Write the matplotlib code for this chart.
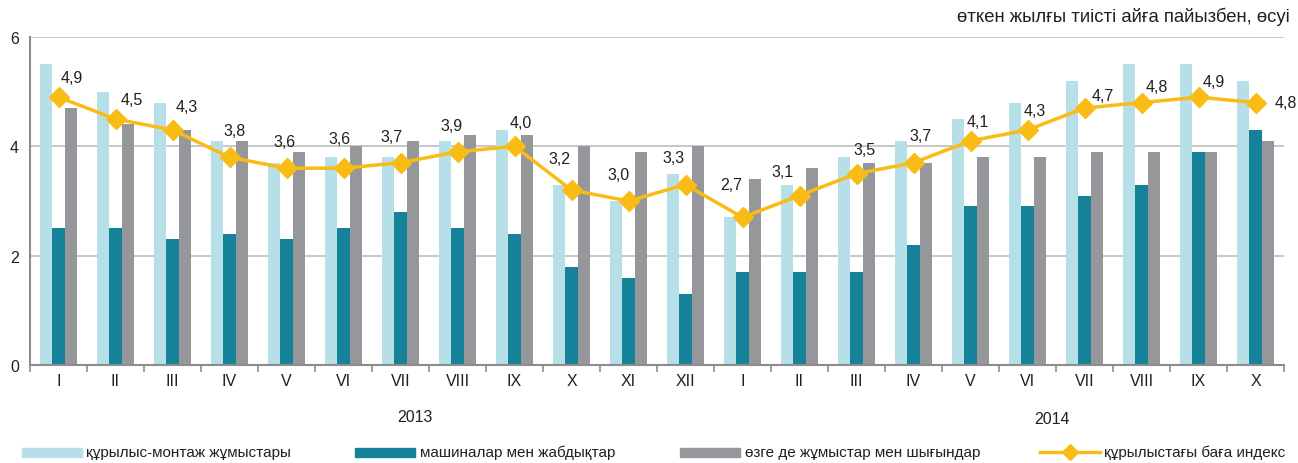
import matplotlib
matplotlib.use('Agg')
import matplotlib.pyplot as plt
import numpy as np
from matplotlib.patches import Rectangle
from matplotlib.lines import Line2D

plt.rcParams['font.family'] = ['Liberation Sans', 'DejaVu Sans']

# Data
months = ['I', 'II', 'III', 'IV', 'V', 'VI', 'VII', 'VIII', 'IX', 'X', 'XI', 'XII',
          'I', 'II', 'III', 'IV', 'V', 'VI', 'VII', 'VIII', 'IX', 'X']
construction = [5.5, 5.0, 4.8, 4.1, 3.7, 3.8, 3.8, 4.1, 4.3, 3.3, 3.0, 3.5,
                2.7, 3.3, 3.8, 4.1, 4.5, 4.8, 5.2, 5.5, 5.5, 5.2]
machinery = [2.5, 2.5, 2.3, 2.4, 2.3, 2.5, 2.8, 2.5, 2.4, 1.8, 1.6, 1.3,
             1.7, 1.7, 1.7, 2.2, 2.9, 2.9, 3.1, 3.3, 3.9, 4.3]
other = [4.7, 4.4, 4.3, 4.1, 3.9, 4.0, 4.1, 4.2, 4.2, 4.0, 3.9, 4.0,
         3.4, 3.6, 3.7, 3.7, 3.8, 3.8, 3.9, 3.9, 3.9, 4.1]
price_index = [4.9, 4.5, 4.3, 3.8, 3.6, 3.6, 3.7, 3.9, 4.0, 3.2, 3.0, 3.3,
               2.7, 3.1, 3.5, 3.7, 4.1, 4.3, 4.7, 4.8, 4.9, 4.8]
years = ['2013', '2014']
series_names = ['құрылыс-монтаж жұмыстары', 'машиналар мен жабдықтар',
                'өзге де жұмыстар мен шығындар', 'құрылыстағы баға индекс']

# label offsets (pixels) relative to the marker
label_dx = [13, 16, 14, 5, -2, -4, -9, -6, 6, -12, -10, -12,
            -11, -17, 8, 7, 7, 7, 18, 15, 15, 30]
label_dy = [20, 20, 23, 27, 27, 30, 26, 26, 24, 32, 27, 27,
            33, 24, 24, 27, 19, 19, 13, 16, 16, 0]

c_light = '#b7dfe8'
c_dark = '#168299'
c_gray = '#96979b'
c_line = '#f9bc15'
c_grid = '#bdbdbd'

fig = plt.figure(figsize=(12.98, 4.64), dpi=100)
ax = fig.add_axes([30 / 1298, 1 - 366 / 464, 1254 / 1298, 328 / 464])

x = np.arange(len(months))
w = 0.222
ax.bar(x - w, construction, w, color=c_light, zorder=2)
ax.bar(x, machinery, w, color=c_dark, zorder=2)
ax.bar(x + w, other, w, color=c_gray, zorder=2)
ax.plot(x, price_index, color=c_line, lw=2.5, marker='D', ms=10,
        markeredgecolor=c_line, zorder=3)

for i, v in enumerate(price_index):
    ax.annotate(f'{v:.1f}'.replace('.', ','), (x[i], v),
                xytext=(label_dx[i] * 0.72, label_dy[i] * 0.72),
                textcoords='offset points', ha='center', va='center',
                fontsize=11.5, color='#231f20', zorder=4)

ax.set_xlim(-0.5, len(months) - 0.5)
ax.set_ylim(0, 6)
ax.set_yticks([0, 2, 4, 6])
ax.yaxis.grid(True, color=c_grid, lw=1.2, zorder=0)
ax.set_axisbelow(True)
ax.set_xticks(x)
ax.set_xticklabels(months)
ax.set_xticks(np.arange(-0.5, len(months)), minor=True)
ax.tick_params(axis='x', which='major', length=0, pad=6, labelsize=11.5, colors='#231f20')
ax.tick_params(axis='x', which='minor', length=5, width=1.2, color='#8c8c8c')
ax.tick_params(axis='y', length=0, pad=8, labelsize=11.5, colors='#231f20')
for s in ['top', 'right']:
    ax.spines[s].set_visible(False)
for s in ['left', 'bottom']:
    ax.spines[s].set_color('#8c8c8c')
    ax.spines[s].set_linewidth(1.5)

# texts
fig.text(1290 / 1298, 1 - 17 / 464, 'өткен жылғы тиісті айға пайызбен, өсуі',
         ha='right', va='center', fontsize=13.3, color='#231f20')
fig.text(415 / 1298, 1 - 418 / 464, years[0], ha='center', va='center',
         fontsize=11.5, color='#231f20')
fig.text(1052 / 1298, 1 - 420 / 464, years[1], ha='center', va='center',
         fontsize=11.5, color='#231f20')

# legend
leg_y = 1 - 453 / 464
patch_h = 9 / 464
for x0, col in [(22, c_light), (355, c_dark), (680, c_gray)]:
    fig.add_artist(Rectangle((x0 / 1298, leg_y - patch_h / 2), 60 / 1298, patch_h,
                             transform=fig.transFigure, color=col))
fig.add_artist(Line2D([1040 / 1298, 1100 / 1298], [leg_y, leg_y],
                      transform=fig.transFigure, color=c_line, lw=2.5))
fig.add_artist(Line2D([1070 / 1298], [leg_y], transform=fig.transFigure,
                      color=c_line, marker='D', ms=8))
for x0, name in zip([86, 420, 745, 1104], series_names):
    fig.text(x0 / 1298, leg_y, name, ha='left', va='center',
             fontsize=11, color='#231f20')

plt.savefig('out.png', dpi=100)
